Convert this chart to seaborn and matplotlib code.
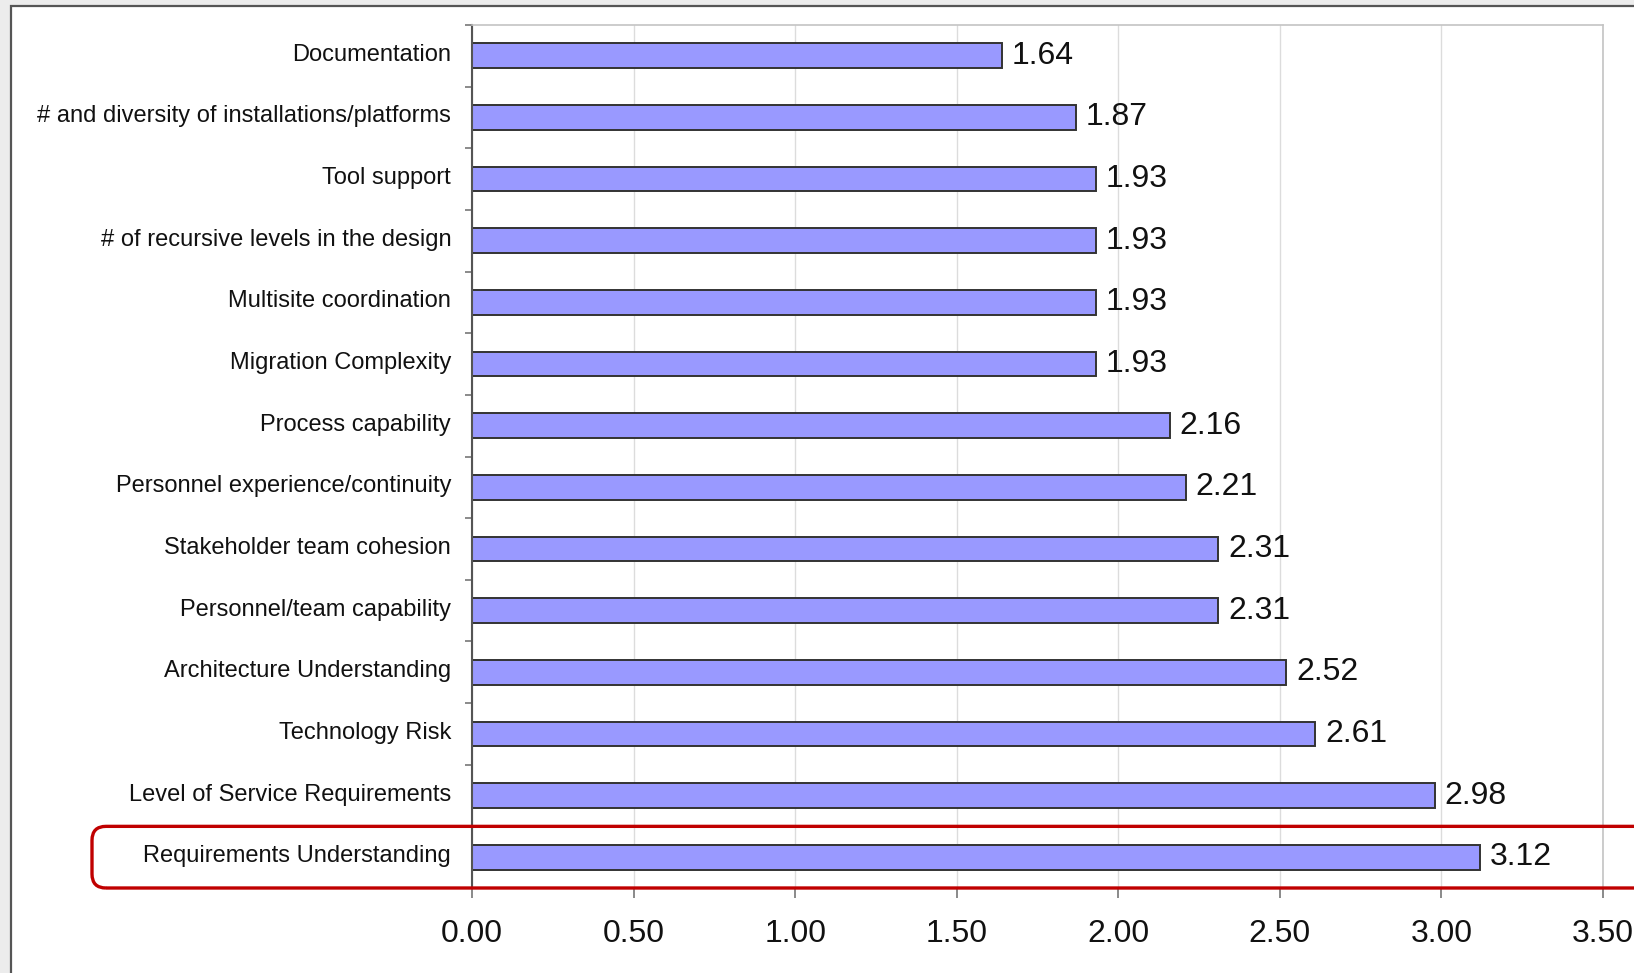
import matplotlib
matplotlib.use('Agg')
import matplotlib.pyplot as plt
import matplotlib.transforms as mtransforms
from matplotlib.patches import Rectangle, FancyBboxPatch
import numpy as np
import seaborn as sns

# -------------------------------------------------------
# Data (top to bottom, as in the chart)
# -------------------------------------------------------
categories = [
    "Documentation",
    "# and diversity of installations/platforms",
    "Tool support",
    "# of recursive levels in the design",
    "Multisite coordination",
    "Migration Complexity",
    "Process capability",
    "Personnel experience/continuity",
    "Stakeholder team cohesion",
    "Personnel/team capability",
    "Architecture Understanding",
    "Technology Risk",
    "Level of Service Requirements",
    "Requirements Understanding",
]
scores = [1.64, 1.87, 1.93, 1.93, 1.93, 1.93, 2.16, 2.21, 2.31, 2.31, 2.52, 2.61, 2.98, 3.12]
x_ticks = [0.0, 0.5, 1.0, 1.5, 2.0, 2.5, 3.0, 3.5]
highlight = "Requirements Understanding"

sns.set_style("white")
plt.rcParams['font.family'] = ['Liberation Sans', 'DejaVu Sans']
NARROW = ['Liberation Sans Narrow', 'Liberation Sans', 'DejaVu Sans']

W, H, DPI = 1634, 973, 100
fig = plt.figure(figsize=(W / DPI, H / DPI), dpi=DPI)
fig.patch.set_facecolor('#ececec')

# white chart panel with dark frame (cropped on right/bottom)
fig.add_artist(Rectangle((10.5 / W, -0.1), 1.2, 1 - 5.5 / H + 0.1,
                         transform=fig.transFigure, facecolor='white',
                         edgecolor='#555555', linewidth=1.6, zorder=-1))

ax = fig.add_axes([472 / W, 1 - 888 / H, (1603 - 472) / W, (888 - 25) / H])

sns.barplot(x=scores, y=categories, orient='h', color='#9999ff', saturation=1,
            width=0.4, edgecolor='#333333', linewidth=1.4, ax=ax)

ax.set_xlim(0, 3.5)
ax.set_ylim(len(categories) - 0.5, -0.5)
ax.set_xlabel('')
ax.set_ylabel('')

# x axis
ax.set_xticks(x_ticks)
ax.set_xticklabels([f"{t:.2f}" for t in x_ticks], fontsize=23, family=NARROW)
ax.tick_params(axis='x', direction='out', length=7, width=1.2, color='#777777',
               pad=15, labelcolor='#111111', bottom=True)
ax.xaxis.grid(True, color='#dcdcdc', linewidth=1)
ax.set_axisbelow(True)

# y axis: labels on categories, tick marks between them
ax.tick_params(axis='y', which='major', length=0, pad=15, labelsize=17,
               labelcolor='#111111')
shift_up = mtransforms.ScaledTranslation(0, 2.5 / 72, fig.dpi_scale_trans)
for lbl in ax.get_yticklabels():
    lbl.set_transform(lbl.get_transform() + shift_up)
ax.set_yticks(np.arange(-0.5, len(categories), 1), minor=True)
ax.tick_params(axis='y', which='minor', direction='out', length=5, width=1.2,
               color='#777777', left=True)

for side in ['top', 'right']:
    ax.spines[side].set_color('#c4c4c4')
    ax.spines[side].set_linewidth(1.2)
ax.spines['left'].set_color('#555555')
ax.spines['left'].set_linewidth(1.5)
ax.spines['bottom'].set_color('#888888')

# value labels
ax.bar_label(ax.containers[0], fmt='%.2f', padding=7, fontsize=23,
             family=NARROW, color='#111111')

# red rounded box around highlighted row
idx = categories.index(highlight)
y_top = ax.transData.transform((0, idx - 0.5))[1] / DPI
y_bot = ax.transData.transform((0, idx + 0.5))[1] / DPI
box = FancyBboxPatch((92 / DPI, y_bot), 20, y_top - y_bot,
                     boxstyle='round,pad=0,rounding_size=0.14',
                     transform=fig.dpi_scale_trans, facecolor='none',
                     edgecolor='#c00000', linewidth=2.4, clip_on=False, zorder=5)
fig.add_artist(box)

fig.savefig('out.png', dpi=DPI, facecolor=fig.get_facecolor())
